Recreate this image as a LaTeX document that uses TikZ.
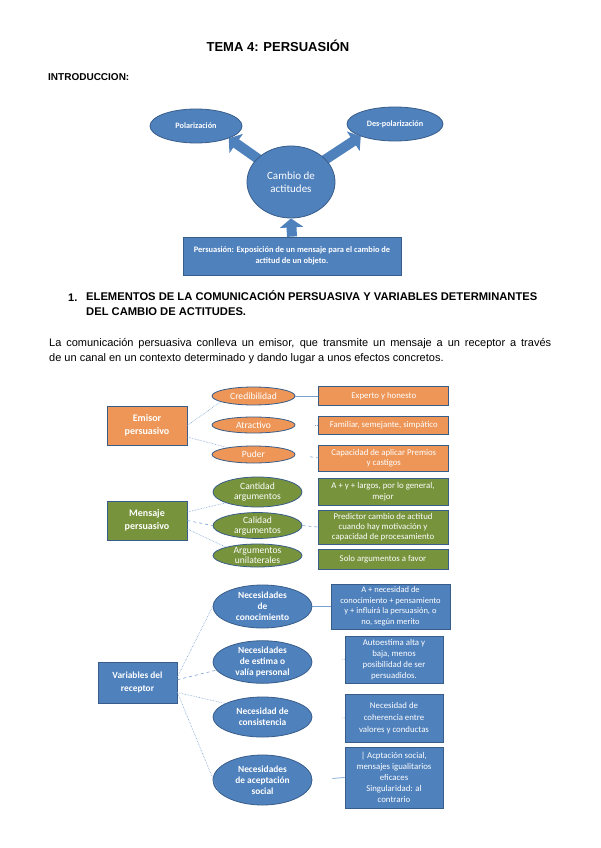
\documentclass[tikz,border=0pt]{standalone}
\usepackage{fontspec}
\setmainfont{Liberation Sans}
\newfontfamily\calibri{Carlito}
\usepackage{tikz}
\usetikzlibrary{shapes.geometric, arrows.meta, positioning, backgrounds}

\definecolor{ofblue}{HTML}{4F81BD}
\definecolor{ofline}{HTML}{385D8A}
\definecolor{oforange}{RGB}{237,150,88}
\definecolor{ofgreen}{HTML}{77933C}
\definecolor{oflink}{RGB}{120,160,210}

\begin{document}
\begin{tikzpicture}[x=1pt, y=-1pt, >=Stealth,
  box/.style={draw=ofline, line width=0.8pt, rectangle, inner sep=1pt, align=center, text=white,
    font=\calibri\fontsize{8.8}{10.5}\selectfont},
  oval/.style={draw=ofline, line width=0.8pt, ellipse, inner sep=0pt, align=center, text=white,
    font=\calibri\fontsize{9.6}{10}\selectfont},
  boldoval/.style={oval, font=\calibri\bfseries\fontsize{9.4}{11}\selectfont},
  link/.style={oflink, line width=0.6pt, densely dotted},
  joint/.style={oflink, line width=0.7pt},
  blockarrow/.style={ofblue, line width=10pt, -{Triangle[width=23pt, length=9pt]}}]

  % cabecera
  \node[font=\bfseries\fontsize{13}{15}\selectfont] (title) at (278,46) {TEMA 4: PERSUASIÓN};
  \node[anchor=west, inner sep=0, font=\bfseries\fontsize{10}{12}\selectfont] (intro) at (48,77) {INTRODUCCION:};

  % introduccion
  \node[oval, fill=ofblue, minimum width=92pt, minimum height=34pt,
    font=\calibri\bfseries\fontsize{8.2}{9}\selectfont] (polar) at (196,126) {Polarización};
  \node[oval, fill=ofblue, minimum width=96pt, minimum height=34pt,
    font=\calibri\bfseries\fontsize{8.2}{9}\selectfont] (despol) at (395,124) {Des-polarización};
  \node[oval, fill=ofblue, minimum width=88pt, minimum height=72pt,
    font=\calibri\fontsize{11}{13}\selectfont] (cambio) at (291,182) {Cambio de\\actitudes};
  \node[box, fill=ofblue, minimum width=218pt, minimum height=38pt,
    font=\calibri\bfseries\fontsize{8.4}{11}\selectfont] (persu) at (292,256)
    {Persuasión: Exposición de un mensaje para el cambio de\\actitud de un objeto.};
  \begin{scope}[on background layer]
    \path[fill=white] (0,0) rectangle (600,848);
    \draw[blockarrow] (persu.north) -- (cambio.south);
    \draw[blockarrow] (cambio.center) -- (polar.south east);
    \draw[blockarrow] (cambio.center) -- (despol.south west);
  \end{scope}

  % apartado 1
  \node[anchor=west, inner sep=0, font=\bfseries\fontsize{11}{15}\selectfont] (num) at (68,298) {1.};
  \node[anchor=north west, inner sep=0, align=left, font=\bfseries\fontsize{11.2}{15}\selectfont] (head) at (86,290.5)
    {ELEMENTOS DE LA COMUNICACIÓN PERSUASIVA Y VARIABLES DETERMINANTES\\DEL CAMBIO DE ACTITUDES.};
  \node[anchor=north west, inner sep=0, align=left, font=\fontsize{11}{15}\selectfont] (para) at (49,338)
    {\makebox[502pt][s]{La comunicación persuasiva conlleva un emisor, que transmite un mensaje a un receptor a través}\\
     de un canal en un contexto determinado y dando lugar a unos efectos concretos.};

  % emisor
  \node[box, fill=oforange, minimum width=80pt, minimum height=39pt,
    font=\calibri\bfseries\fontsize{10}{13}\selectfont] (emisor) at (147,425.5) {Emisor\\persuasivo};
  \node[oval, fill=oforange, minimum width=83pt, minimum height=18pt] (cred) at (253.5,396) {Credibilidad};
  \node[oval, fill=oforange, minimum width=83pt, minimum height=16pt] (atrac) at (253.5,425) {Atractivo};
  \node[oval, fill=oforange, minimum width=83pt, minimum height=17pt] (puder) at (253.5,454.5) {Puder};
  \node[box, fill=oforange, minimum width=130pt, minimum height=19pt, right=23pt of cred] (exp) {Experto y honesto};
  \node[box, fill=oforange, minimum width=130pt, minimum height=18pt, right=23pt of atrac] (fam) {Familiar, semejante, simpático};
  \node[box, fill=oforange, minimum width=130pt, minimum height=26pt, right=23pt of puder, yshift=-3.5pt] (cap)
    {Capacidad de aplicar Premios\\y castigos};
  \draw[link] (emisor.east) -- (cred.190);
  \draw[link] (emisor.-16) -- (puder.165);
  \draw[joint] (cred.east) -- (exp.west);
  \draw[link, shorten <=20pt] (atrac.east) -- (fam.west);
  \draw[link, dashed, shorten <=15pt] (puder.east) -- (cap.west);

  % mensaje
  \node[box, fill=ofgreen, minimum width=80pt, minimum height=39pt,
    font=\calibri\bfseries\fontsize{10}{13}\selectfont] (mensaje) at (147,520.5) {Mensaje\\persuasivo};
  \node[oval, fill=ofgreen, minimum width=89pt, minimum height=30pt] (cant) at (257.5,492) {Cantidad\\argumentos};
  \node[oval, fill=ofgreen, minimum width=89pt, minimum height=25pt] (cal) at (257.5,525.5) {Calidad\\argumentos};
  \node[oval, fill=ofgreen, minimum width=89pt, minimum height=23pt] (unil) at (257.5,555.5) {Argumentos\\unilaterales};
  \node[box, fill=ofgreen, minimum width=130pt, minimum height=27pt] (masl) at (383,491.5)
    {A + y + largos, por lo general,\\mejor};
  \node[box, fill=ofgreen, minimum width=130pt, minimum height=34pt, font=\calibri\fontsize{8.8}{10.2}\selectfont] (pred) at (383,527)
    {Predictor cambio de actitud\\cuando hay motivación y\\capacidad de procesamiento};
  \node[box, fill=ofgreen, minimum width=130pt, minimum height=20pt] (solo) at (383,559) {Solo argumentos a favor};
  \draw[link] (mensaje.12) -- (cant.south west);
  \draw[link, dashed] (mensaje.east) -- (cal.west);
  \draw[link] (mensaje.-12) -- (unil.north west);
  \draw[link, dashed] (cal.east) -- (pred.west);

  % receptor
  \node[box, fill=ofblue, minimum width=79pt, minimum height=41pt,
    font=\calibri\bfseries\fontsize{9.4}{12.5}\selectfont] (receptor) at (137.5,682.5) {Variables del\\receptor};
  \node[boldoval, fill=ofblue, minimum width=99pt, minimum height=43pt] (conoc) at (262.5,606.5) {Necesidades\\de\\conocimiento};
  \node[boldoval, fill=ofblue, minimum width=99pt, minimum height=42pt] (estima) at (262.5,662) {Necesidades\\de estima o\\valía personal};
  \node[boldoval, fill=ofblue, minimum width=99pt, minimum height=40pt] (consis) at (262.5,717) {Necesidad de\\consistencia};
  \node[boldoval, fill=ofblue, minimum width=99pt, minimum height=50pt] (acept) at (262.5,780) {Necesidades\\de aceptación\\social};
  \node[box, fill=ofblue, minimum width=119pt, minimum height=45pt, font=\calibri\fontsize{8.5}{10.5}\selectfont] (anec) at (390.5,606.5)
    {A + necesidad de\\conocimiento + pensamiento\\y + influirá la persuasión, o\\no, según merito};
  \node[box, fill=ofblue, minimum width=98pt, minimum height=47pt, font=\calibri\fontsize{8.8}{11}\selectfont] (auto) at (394,659.5)
    {Autoestima alta y\\baja, menos\\posibilidad de ser\\persuadidos.};
  \node[box, fill=ofblue, minimum width=98pt, minimum height=48pt, font=\calibri\fontsize{8.8}{12}\selectfont] (coher) at (394,718)
    {Necesidad de\\coherencia entre\\valores y conductas};
  \node[box, fill=ofblue, minimum width=98pt, minimum height=61pt, font=\calibri\fontsize{8.8}{11}\selectfont] (acpt) at (394,777.5)
    {| Acptación social,\\mensajes igualitarios\\eficaces\\Singularidad: al\\contrario};
  \draw[link] (receptor.8) -- (conoc.west);
  \draw[link, dashed] (receptor.4) -- (estima.190);
  \draw[link] (receptor.-14) -- (consis.160);
  \draw[link] (receptor.-14) -- (acept.195);
  \draw[joint] (conoc.east) -- (anec.west);
  \draw[link, shorten <=30pt] (estima.east) -- (auto.west);
  \draw[link, shorten <=30pt] (consis.east) -- (coher.west);
  \draw[joint, shorten <=20pt] (acept.east) -- (acpt.west);
\end{tikzpicture}
\end{document}
